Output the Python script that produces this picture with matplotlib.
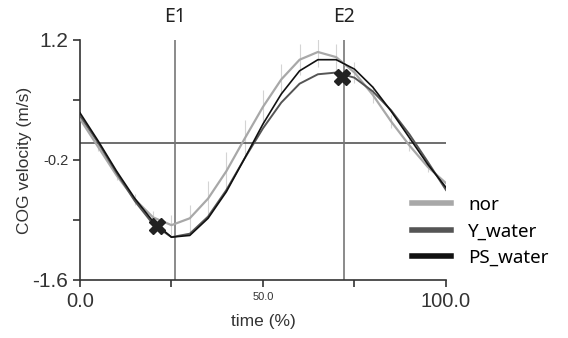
import numpy as np
import matplotlib
matplotlib.use('Agg')
import matplotlib.pyplot as plt
import matplotlib.transforms as mtransforms

# data (time in % of cycle, velocity in m/s)
time_pct = [0, 5, 10, 15, 20, 25, 30, 35, 40, 45, 50,
            55, 60, 65, 70, 75, 80, 85, 90, 95, 100]
nor = [0.28, -0.05, -0.38, -0.66, -0.87, -0.96, -0.88, -0.65, -0.33, 0.05, 0.42,
       0.74, 0.97, 1.06, 1.00, 0.82, 0.56, 0.25, -0.03, -0.28, -0.47]
nor_sd = [0.03, 0.04, 0.05, 0.06, 0.08, 0.12, 0.16, 0.20, 0.22, 0.22, 0.20,
          0.18, 0.18, 0.17, 0.15, 0.12, 0.10, 0.08, 0.07, 0.06, 0.05]
y_water = [0.32, 0.00, -0.35, -0.68, -0.95, -1.10, -1.06, -0.86, -0.55, -0.18, 0.17,
           0.47, 0.69, 0.80, 0.82, 0.76, 0.60, 0.38, 0.10, -0.22, -0.55]
ps_water = [0.35, 0.02, -0.33, -0.65, -0.92, -1.10, -1.08, -0.88, -0.57, -0.18, 0.22,
            0.57, 0.84, 0.97, 0.97, 0.86, 0.65, 0.37, 0.06, -0.25, -0.52]
events = {'E1': 26, 'E2': 72}
marker_t = [21, 71.6]
marker_v = [-0.97, 0.77]

plt.rcParams['font.family'] = ['Liberation Sans', 'DejaVu Sans']

fig = plt.figure(figsize=(5.68, 3.38), dpi=100)
ax = fig.add_axes([0.1408, 0.1716, 0.6444, 0.7101])

# sd hairlines for nor
nor_a = np.array(nor)
sd_a = np.array(nor_sd)
ax.vlines(time_pct, nor_a - sd_a, nor_a + sd_a, color='#d4d4d4', lw=0.8, zorder=1)

ax.plot(time_pct, nor, color='#a8a8a8', lw=1.6, label='nor', zorder=3)
ax.plot(time_pct, y_water, color='#555555', lw=1.4, label='Y_water', zorder=3)
ax.plot(time_pct, ps_water, color='#111111', lw=1.2, label='PS_water', zorder=4)

ax.plot(marker_t, marker_v, ls='none', marker='X', ms=11, color='#222222', zorder=5)

# reference lines
ax.axhline(0, color='#555555', lw=1.2, zorder=2)
trans = mtransforms.blended_transform_factory(ax.transData, ax.transAxes)
for name, t in events.items():
    ax.axvline(t, color='#777777', lw=1.2, zorder=2)
    ax.text(t, 1.095, name, transform=trans, ha='center', va='center',
            fontsize=14, color='#222222', family=['Noto Sans', 'DejaVu Sans'])

ax.set_xlim(0, 100)
ax.set_ylim(-1.6, 1.2)
ax.spines['top'].set_visible(False)
ax.spines['right'].set_visible(False)
for s in ('left', 'bottom'):
    ax.spines[s].set_color('#333333')
    ax.spines[s].set_linewidth(1.2)

ax.set_yticks([1.2, 0.5, -0.2, -0.9, -1.6])
ax.set_yticklabels(['1.2', '', '-0.2', '', '-1.6'])
ax.set_xticks([0, 25, 50, 75, 100])
ax.set_xticklabels(['0.0', '', '50.0', '', '100.0'])
ax.tick_params(colors='#333333', labelcolor='#333333', length=5, width=1.2)
ysizes = [15, 0, 10.5, 0, 15]
for lab, sz in zip(ax.get_yticklabels(), ysizes):
    if sz:
        lab.set_fontsize(sz)
xsizes = [14.5, 0, 8, 0, 14.5]
for lab, sz in zip(ax.get_xticklabels(), xsizes):
    if sz:
        lab.set_fontsize(sz)

ax.set_xlabel('time (%)', fontsize=12.5, color='#333333', labelpad=2)
ax.set_ylabel('COG velocity (m/s)', fontsize=12.5, color='#333333', labelpad=0)

leg = ax.legend(loc='upper left', bbox_to_anchor=(0.695, 0.47),
                bbox_transform=fig.transFigure, frameon=False,
                handlelength=2.1, handletextpad=0.9, labelspacing=0.45,
                prop={'family': ['Noto Sans', 'DejaVu Sans'], 'size': 13.5})
for h in leg.get_lines():
    h.set_linewidth(4)

plt.savefig('out.png', dpi=100)
